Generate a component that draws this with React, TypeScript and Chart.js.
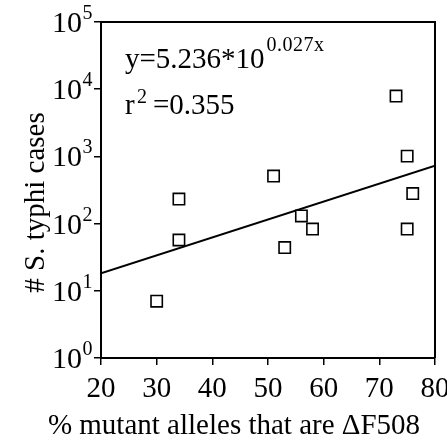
import React, { useEffect, useRef } from "react";
import { Chart, registerables } from "chart.js";

Chart.register(...registerables);

const pointsX = [30, 34, 34, 51, 53, 56, 58, 73, 75, 76, 75];
const pointsY = [7, 57, 232, 510, 44, 130, 83, 7900, 1010, 280, 83];
const fitX = [20, 80];
const fitY = [18.2, 730];
const xTicks = [20, 30, 40, 50, 60, 70, 80];
const yExponents = [0, 1, 2, 3, 4, 5];
const xTitle = "% mutant alleles that are \u0394F508";
const yTitle = "# S. typhi cases";
const eqMain = "y=5.236*10";
const eqExp = "0.027x";
const r2Label = "r";
const r2Exp = "2";
const r2Value = "=0.355";

const FONT = '"Liberation Serif", "Times New Roman", serif';

const textPlugin = {
  id: "customText",
  afterDraw(chart: any) {
    const ctx = chart.ctx;
    const area = chart.chartArea;
    const xs = chart.scales.x;
    const ys = chart.scales.y;
    ctx.save();
    ctx.strokeStyle = "#000";
    ctx.lineWidth = 2;
    ctx.beginPath();
    ctx.moveTo(area.left, area.top);
    ctx.lineTo(area.right, area.top);
    ctx.lineTo(area.right, area.bottom);
    ctx.stroke();

    ctx.fillStyle = "#000";
    ctx.font = `29px ${FONT}`;
    ctx.textAlign = "center";
    ctx.textBaseline = "alphabetic";
    xTicks.forEach((v) => {
      ctx.fillText(String(v), xs.getPixelForValue(v), area.bottom + 39);
    });
    yExponents.forEach((e) => {
      const py = ys.getPixelForValue(Math.pow(10, e));
      ctx.font = `30px ${FONT}`;
      ctx.textAlign = "right";
      ctx.fillText("10", area.left - 19, py + 10);
      ctx.font = `20px ${FONT}`;
      ctx.textAlign = "left";
      ctx.fillText(String(e), area.left - 18.5, py - 3);
    });
    ctx.font = `29px ${FONT}`;
    ctx.textAlign = "center";
    ctx.fillText(xTitle, 234, 434);
    ctx.save();
    ctx.translate(44, 202.5);
    ctx.rotate(-Math.PI / 2);
    ctx.textAlign = "center";
    ctx.fillText(yTitle, 0, 0);
    ctx.restore();
    ctx.textAlign = "left";
    ctx.font = `29px ${FONT}`;
    ctx.fillText(eqMain, 125, 68);
    const w = ctx.measureText(eqMain).width;
    ctx.font = `20px ${FONT}`;
    (ctx as any).letterSpacing = "0.5px";
    ctx.fillText(eqExp, 125 + w + 2, 51);
    (ctx as any).letterSpacing = "0px";
    ctx.font = `29px ${FONT}`;
    ctx.fillText(r2Label, 125, 114);
    ctx.font = `20px ${FONT}`;
    ctx.fillText(r2Exp, 137, 103);
    ctx.font = `29px ${FONT}`;
    ctx.fillText(r2Value, 153, 114);
    ctx.restore();
  },
};

export default function App() {
  const ref = useRef<HTMLCanvasElement>(null);
  useEffect(() => {
    if (!ref.current) return;
    const chart = new Chart(ref.current, {
      type: "scatter",
      data: {
        datasets: [
          {
            type: "scatter",
            data: pointsX.map((x, i) => ({ x, y: pointsY[i] })),
            pointStyle: "rect",
            pointRadius: 8,
            pointBorderWidth: 1.6,
            borderColor: "#000",
            backgroundColor: "#fff",
            order: 0,
          } as any,
          {
            type: "line",
            data: fitX.map((x, i) => ({ x, y: fitY[i] })),
            borderColor: "#000",
            borderWidth: 2,
            pointRadius: 0,
            fill: false,
            order: 1,
          } as any,
        ],
      },
      options: {
        responsive: false,
        animation: false,
        layout: { padding: { left: 0, top: 22, right: 12, bottom: 0 } },
        plugins: { legend: { display: false }, tooltip: { enabled: false }, title: { display: false } },
        scales: {
          x: {
            type: "linear",
            min: 20,
            max: 80,
            afterBuildTicks: (s: any) => {
              s.ticks = xTicks.map((v) => ({ value: v }));
            },
            afterFit: (s: any) => {
              s.height = 84;
            },
            ticks: { display: false },
            grid: { drawOnChartArea: false, drawTicks: true, tickLength: 7, color: "#000", lineWidth: 1.5 },
            border: { display: true, color: "#000", width: 2 },
          },
          y: {
            type: "logarithmic",
            min: 1,
            max: 100000,
            afterBuildTicks: (s: any) => {
              s.ticks = yExponents.map((e) => ({ value: Math.pow(10, e) }));
            },
            afterFit: (s: any) => {
              s.width = 101;
            },
            ticks: { display: false },
            grid: { drawOnChartArea: false, drawTicks: true, tickLength: 7, color: "#000", lineWidth: 1.5 },
            border: { display: true, color: "#000", width: 2 },
          },
        },
      },
      plugins: [textPlugin],
    });
    return () => chart.destroy();
  }, []);
  return (
    <div style={{ position: "absolute", left: 0, top: 0, width: 447, height: 442, background: "#fff" }}>
      <canvas ref={ref} width={447} height={442} style={{ width: 447, height: 442 }} />
    </div>
  );
}
